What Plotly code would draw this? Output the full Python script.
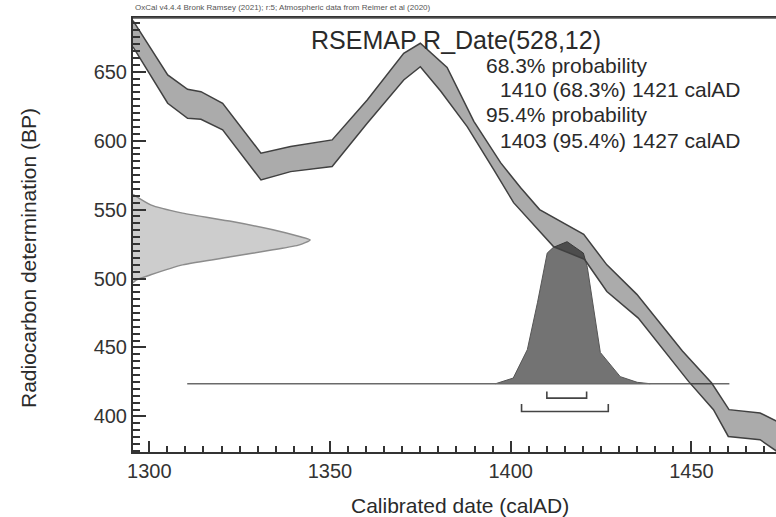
import plotly.graph_objects as go

# ---------------- data ----------------
# calibration curve band (IntCal20), upper and lower edges
curve_upper_year = [1295.5, 1305.1, 1310.6, 1314.3, 1320.3, 1330.9, 1339.1, 1350.6, 1360.3,
                    1370.4, 1375.0, 1382.4, 1389.8, 1397.2, 1402.7, 1408.0, 1420.2, 1426.6,
                    1434.9, 1447.5, 1455.6, 1460.4, 1469.0, 1474.0]
curve_upper_bp = [687.0, 647.6, 637.2, 635.5, 627.1, 590.9, 595.7, 600.5, 629.5,
                  663.3, 670.6, 653.0, 614.0, 584.0, 566.0, 550.0, 532.0, 509.9,
                  488.5, 447.5, 424.2, 404.9, 402.5, 396.0]
curve_lower_year = [1295.5, 1305.1, 1310.6, 1314.3, 1320.3, 1330.9, 1339.1, 1350.6, 1360.3,
                    1370.4, 1375.0, 1380.6, 1388.0, 1395.3, 1400.8, 1411.9, 1420.4, 1426.6,
                    1435.3, 1449.2, 1456.1, 1460.2, 1469.0, 1474.0]
curve_lower_bp = [668.0, 627.1, 616.2, 615.5, 607.8, 571.5, 577.5, 581.2, 612.6,
                  644.0, 653.6, 636.0, 610.0, 579.0, 555.0, 523.0, 514.0, 490.6,
                  471.3, 425.4, 404.9, 385.5, 383.1, 374.0]

# calibrated (posterior) probability distribution, relative density
cal_year = [1395.8, 1400.7, 1404.6, 1407.4, 1410.1, 1411.8, 1415.6, 1420.1, 1421.2,
            1424.8, 1430.3, 1435.0, 1438.6]
cal_prob = [0.0, 0.04, 0.24, 0.57, 0.92, 0.96, 1.0, 0.92, 0.82, 0.22, 0.05, 0.01, 0.0]

# radiocarbon measurement R_Date(528,12), relative density along BP axis
rc_bp = [561.0, 553.4, 547.4, 541.3, 535.3, 530.4, 528.0, 524.4, 520.8, 515.9, 509.9, 502.7, 499.0, 497.0]
rc_prob = [0.0, 0.10, 0.28, 0.56, 0.79, 0.94, 1.0, 0.94, 0.79, 0.56, 0.28, 0.10, 0.02, 0.0]

# highest posterior density ranges
range68 = [1410, 1421]
range95 = [1403, 1427]
# extent of the baseline of the calibrated distribution
baseline_span = [1310.5, 1460.5]

# ---------------- layout constants ----------------
X_RANGE = [1295.5, 1473.4]
Y_RANGE = [374.2, 688.9]
BASE_BP = 423.7          # baseline of calibrated distribution (BP units)
CAL_HEIGHT = 103.0       # plotted height of calibrated peak (BP units)
RC_WIDTH = 49.0          # plotted width of measurement peak (years)
FONT = "Liberation Sans, Arial, sans-serif"
DARK = "#333333"

fig = go.Figure()

# measurement distribution on the y axis
rc_x = [X_RANGE[0] + p * RC_WIDTH for p in rc_prob]
fig.add_trace(go.Scatter(
    x=[X_RANGE[0]] + rc_x + [X_RANGE[0]], y=[rc_bp[0]] + rc_bp + [rc_bp[-1]],
    mode="lines", line=dict(color="#8c8c8c", width=1.5, shape="spline", smoothing=0.6),
    fill="toself", fillcolor="#cdcdcd", hoverinfo="skip", showlegend=False))

# calibrated distribution
cal_y = [BASE_BP + p * CAL_HEIGHT for p in cal_prob]
fig.add_trace(go.Scatter(
    x=cal_year, y=cal_y, mode="lines",
    line=dict(color="#555555", width=1),
    fill="toself", fillcolor="#737373", hoverinfo="skip", showlegend=False))

# baseline
fig.add_trace(go.Scatter(
    x=baseline_span, y=[BASE_BP, BASE_BP], mode="lines",
    line=dict(color="#6a6a6a", width=1.5), hoverinfo="skip", showlegend=False))

# calibration curve band
band_x = curve_upper_year + curve_lower_year[::-1]
band_y = curve_upper_bp + curve_lower_bp[::-1]
fig.add_trace(go.Scatter(
    x=band_x, y=band_y, mode="lines",
    line=dict(color="#404040", width=1.5),
    fill="toself", fillcolor="rgba(0,0,0,0.33)", hoverinfo="skip", showlegend=False))

# range brackets
def bracket(r, top, bottom):
    return go.Scatter(
        x=[r[0], r[0], r[1], r[1]], y=[top, bottom, bottom, top], mode="lines",
        line=dict(color="#444444", width=1.6), hoverinfo="skip", showlegend=False)

fig.add_trace(bracket(range68, BASE_BP - 5.6, BASE_BP - 10.4))
fig.add_trace(bracket(range95, BASE_BP - 14.7, BASE_BP - 20.1))

# ---------------- axes ----------------
fig.update_xaxes(
    range=X_RANGE, tick0=0, dtick=50, ticks="inside", ticklen=11, tickwidth=2,
    tickcolor=DARK, showline=True, linecolor=DARK, linewidth=2, mirror=True,
    showgrid=False, zeroline=False, layer="above traces",
    tickfont=dict(family=FONT, size=20, color=DARK),
    minor=dict(dtick=5, tick0=0, ticks="inside", ticklen=6, tickwidth=1.6, tickcolor=DARK, showgrid=False))
fig.update_yaxes(
    range=Y_RANGE, tick0=0, dtick=50, ticks="inside", ticklen=13, tickwidth=2,
    tickcolor=DARK, showline=True, linecolor=DARK, linewidth=2,
    showgrid=False, zeroline=False, layer="above traces",
    tickfont=dict(family=FONT, size=20, color=DARK),
    minor=dict(dtick=5, tick0=0, ticks="inside", ticklen=7, tickwidth=1.6, tickcolor=DARK, showgrid=False))

# plot area in pixels: x 133..776, y 18..452
L, R, T, B = 133, 776, 18, 452
def px(xp):
    return (xp - L) / (R - L)
def py(yp):
    return (B - yp) / (B - T)

# top frame line
fig.add_shape(type="line", xref="paper", yref="paper", x0=0, x1=1, y0=1, y1=1,
              line=dict(color="#555555", width=1.5), layer="above")

TXT = "#2a2a2a"
annotations = [
    dict(text="OxCal v4.4.4 Bronk Ramsey (2021); r:5; Atmospheric data from Reimer et al (2020)",
         x=px(133), y=py(8), xanchor="left", yanchor="middle",
         font=dict(family=FONT, size=8, color="#555555")),
    dict(text="RSEMAP R_Date(528,12)", x=px(456), y=py(40), xanchor="center", yanchor="middle",
         font=dict(family=FONT, size=25, color=TXT)),
    dict(text="68.3% probability", x=px(484), y=py(66), xanchor="left", yanchor="middle",
         font=dict(family=FONT, size=21, color=TXT)),
    dict(text="1410 (68.3%) 1421 calAD", x=px(498), y=py(90), xanchor="left", yanchor="middle",
         font=dict(family=FONT, size=21, color=TXT)),
    dict(text="95.4% probability", x=px(484), y=py(115), xanchor="left", yanchor="middle",
         font=dict(family=FONT, size=21, color=TXT)),
    dict(text="1403 (95.4%) 1427 calAD", x=px(498), y=py(140), xanchor="left", yanchor="middle",
         font=dict(family=FONT, size=21, color=TXT)),
    dict(text="Calibrated date (calAD)", x=px(460), y=py(505), xanchor="center", yanchor="middle",
         font=dict(family=FONT, size=21, color=TXT)),
    dict(text="Radiocarbon determination (BP)", x=px(28), y=py(258), xanchor="center", yanchor="middle",
         textangle=-90, font=dict(family=FONT, size=21, color=TXT)),
]
for a in annotations:
    a.update(xref="paper", yref="paper", showarrow=False)

fig.update_layout(
    width=776, height=517, autosize=False,
    margin=dict(l=L, r=776 - R, t=T, b=517 - B, pad=0),
    paper_bgcolor="white", plot_bgcolor="white",
    annotations=annotations, showlegend=False)

fig.write_html("out.html", config={"displayModeBar": False},
               post_script="document.body.style.margin='0';document.body.style.overflow='hidden';")
